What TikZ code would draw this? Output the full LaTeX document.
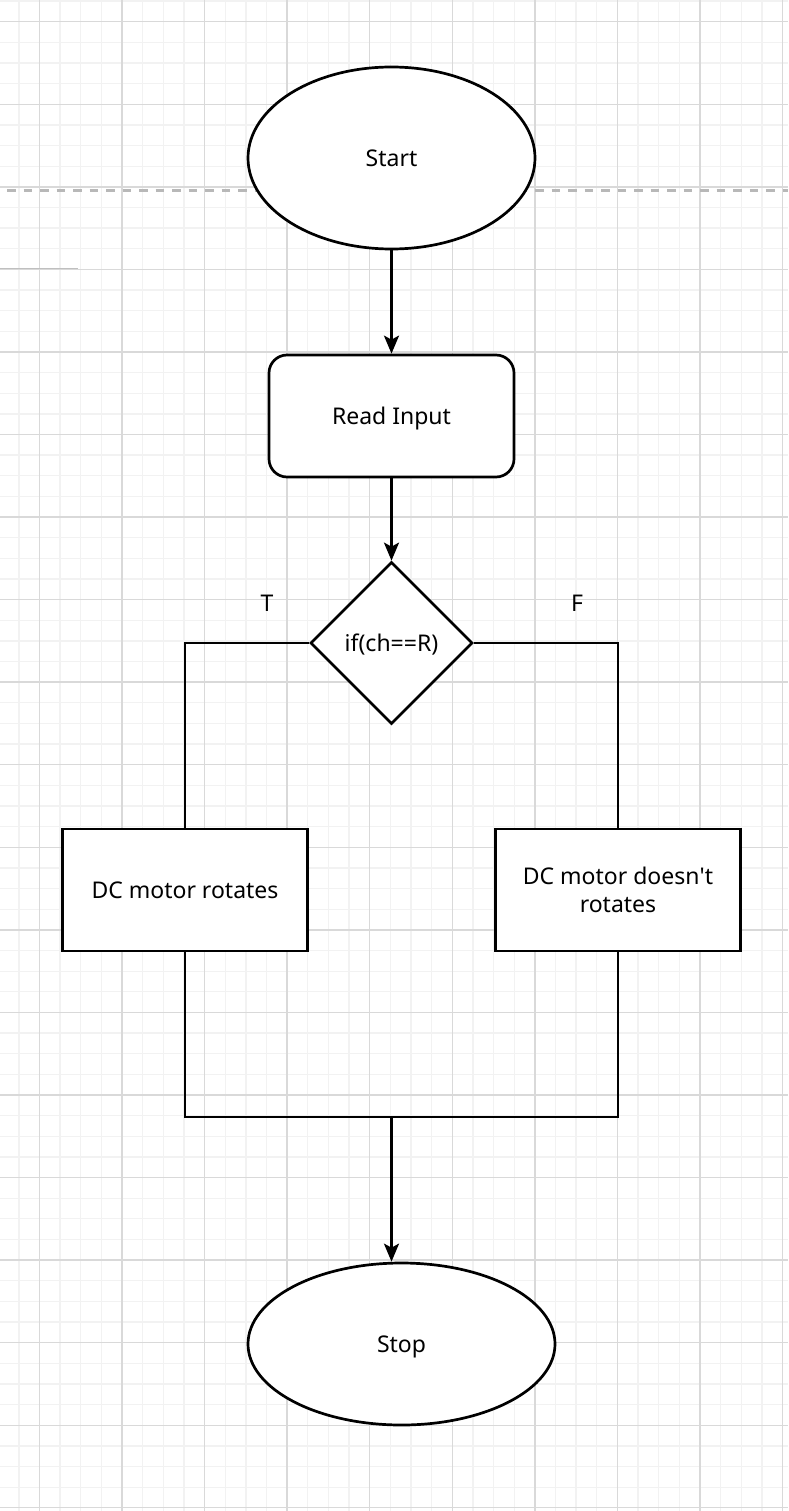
\documentclass[tikz,border=0pt]{standalone}
\usepackage{fontspec}
\setmainfont{Noto Sans}
\usetikzlibrary{shapes.geometric,arrows.meta}
\begin{document}
\begin{tikzpicture}[x=1pt,y=-1pt,
  minorline/.style={draw=black!5,line width=1.3pt},
  majorline/.style={draw=black!15,line width=1.4pt},
  shp/.style={draw=black,fill=white,line width=2.7pt,font=\fontsize{23}{28}\selectfont,align=center,inner sep=0pt,text=black},
  oneline/.style={text height=16.5pt,text depth=0pt},
  term/.style={shp,ellipse,oneline},
  proc/.style={shp,rectangle,minimum width=245pt,minimum height=122pt},
  decis/.style={shp,diamond,minimum width=162pt,minimum height=162pt},
  lbl/.style={font=\fontsize{23}{28}\selectfont,inner sep=0pt,text=black,oneline},
  conn/.style={draw=black,line width=2.7pt},
  arr/.style={conn,-{Stealth[length=18pt,width=15pt,inset=4pt]}}
]
\useasboundingbox (0,0) rectangle (788,1511);
\fill[white] (0,0) rectangle (788,1511);
% grid
\foreach \i in {-1,...,37} { \draw[minorline] (39.5+20.64*\i,0) -- (39.5+20.64*\i,1511); }
\foreach \i in {-1,...,73} { \draw[minorline] (0,21.7+20.64*\i) -- (788,21.7+20.64*\i); }
\foreach \i in {0,...,9} { \draw[majorline] (39.5+82.56*\i,0) -- (39.5+82.56*\i,1511); }
\foreach \i in {0,...,18} { \draw[majorline] (0,21.7+82.56*\i) -- (788,21.7+82.56*\i); }
\draw[draw=black!28,line width=2.2pt,dash pattern=on 8.5pt off 8pt] (7,190.5) -- (788,190.5);
\draw[draw=black!25,line width=1.3pt] (0,268.3) -- (78,268.3);
% nodes
\node[term,minimum width=287pt,minimum height=182pt] (start) at (391.5,158) {Start};
\node[proc,oneline,rounded corners=18pt] (read) at (391.5,416) {Read Input};
\node[decis,oneline] (dec) at (391.5,643) {if(ch==R)};
\node[proc,oneline] (lbox) at (185,890) {DC motor rotates};
\node[proc] (rbox) at (618,890) {DC motor doesn\textquotesingle t\\rotates};
\node[term,minimum width=307pt,minimum height=162pt] (stop) at (401.5,1344) {Stop};
\node[lbl] (tl) at (267,603) {T};
\node[lbl] (fl) at (577,603) {F};
\coordinate (j) at (391.5,1117);
% connectors
\draw[arr] (start) -- (read);
\draw[arr] (read) -- (dec);
\draw[conn] (dec.west) -| (lbox.north);
\draw[conn] (dec.east) -| (rbox.north);
\draw[conn] (lbox.south) |- (j) -| (rbox.south);
\draw[arr] (j) -- (j |- stop.north);
\end{tikzpicture}
\end{document}
